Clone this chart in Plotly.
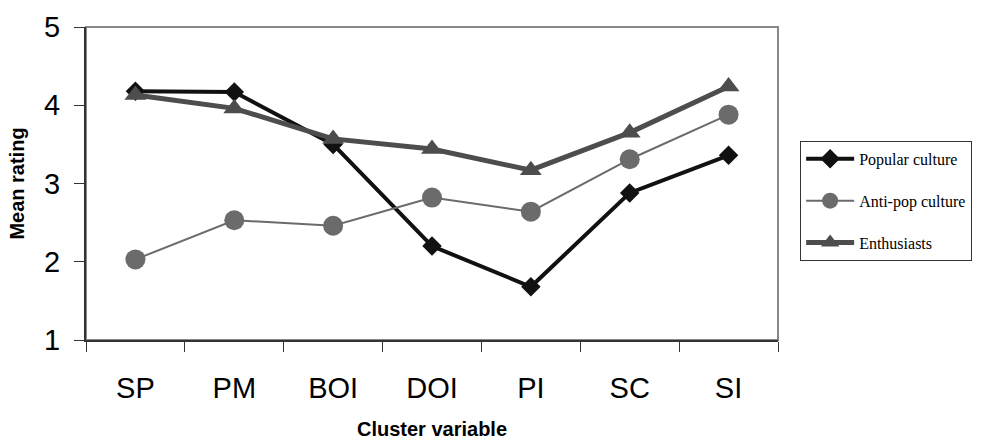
import plotly.graph_objects as go

categories = ["SP", "PM", "BOI", "DOI", "PI", "SC", "SI"]
popular_culture = [4.18, 4.17, 3.50, 2.20, 1.68, 2.88, 3.36]
anti_pop_culture = [2.03, 2.53, 2.46, 2.82, 2.64, 3.31, 3.88]
enthusiasts = [4.13, 3.96, 3.57, 3.44, 3.17, 3.65, 4.24]

fig = go.Figure()
fig.add_trace(go.Scatter(
    x=categories, y=popular_culture, name="Popular culture", mode="lines+markers",
    legendgroup="a",
    line=dict(color="#111111", width=4),
    marker=dict(symbol="diamond", size=15, color="#111111")))
fig.add_trace(go.Scatter(
    x=categories, y=anti_pop_culture, name="Anti-pop culture", mode="lines+markers",
    legendgroup="b",
    line=dict(color="#6b6b6b", width=2),
    marker=dict(symbol="circle", size=20, color="#6b6b6b")))
fig.add_trace(go.Scatter(
    x=categories, y=enthusiasts, name="Enthusiasts", mode="lines+markers",
    legendgroup="c",
    line=dict(color="#4d4d4d", width=5),
    marker=dict(symbol="triangle-up", size=19, color="#4d4d4d")))

# plot border (gray top/right)
fig.add_shape(type="rect", xref="paper", yref="paper", x0=0, y0=0, x1=1, y1=1,
              line=dict(color="#888888", width=2), layer="below")

fig.update_layout(
    width=984, height=440,
    margin=dict(l=86, r=204, t=27, b=100),
    paper_bgcolor="white", plot_bgcolor="white",
    font=dict(family="Liberation Sans, Arial, sans-serif", color="black"),
    showlegend=True,
    legend=dict(
        x=1.032, y=0.636, xanchor="left", yanchor="top",
        bordercolor="#333333", borderwidth=1,
        font=dict(family="Liberation Serif, Times New Roman, serif", size=16, color="black"),
        itemwidth=48, tracegroupgap=18,
    ),
    xaxis=dict(
        type="category", range=[-0.5, 6.5], automargin=False,
        tickson="boundaries", ticks="outside", ticklen=10, tickcolor="#333333",
        showline=True, linecolor="#333333", linewidth=2,
        showgrid=False, zeroline=False,
        tickfont=dict(size=29), ticklabelstandoff=21,
        title=dict(text="<b>Cluster variable</b>", font=dict(size=20), standoff=26),
    ),
    yaxis=dict(
        range=[1, 5], tickvals=[1, 2, 3, 4, 5], automargin=False,
        ticks="outside", ticklen=10, tickcolor="#333333",
        showline=True, linecolor="#333333", linewidth=2,
        showgrid=False, zeroline=False,
        tickfont=dict(size=29), ticklabelstandoff=8,
        title=dict(text="<b>Mean rating</b>", font=dict(size=20), standoff=14),
    ),
)

fig.write_html("out.html")
